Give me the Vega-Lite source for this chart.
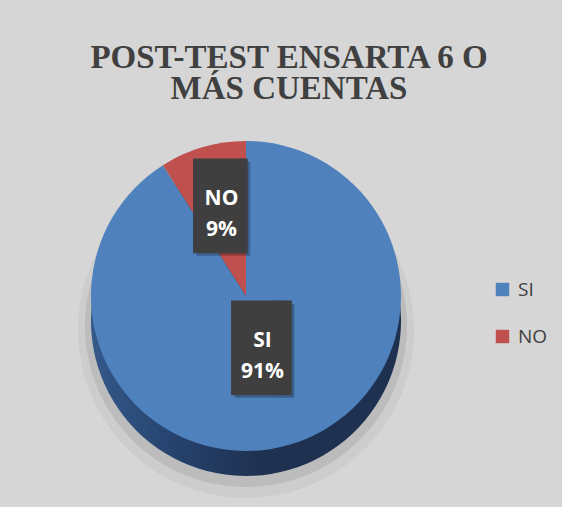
{
  "$schema": "https://vega.github.io/schema/vega-lite/v6.json",
  "width": 470,
  "height": 356,
  "autosize": {"type": "none"},
  "padding": {"left": 11, "top": 118, "right": 81, "bottom": 33},
  "background": "#d6d6d6",
  "title": {
    "text": ["POST-TEST ENSARTA 6 O", "MÁS CUENTAS"],
    "font": "Liberation Serif",
    "fontSize": 33,
    "fontWeight": "bold",
    "color": "#404040",
    "lineHeight": 31,
    "anchor": "middle",
    "frame": "group",
    "offset": 12,
    "dx": 43
  },
  "data": {"values": [{"cat": "SI", "value": 0.91}, {"cat": "NO", "value": 0.09}]},
  "encoding": {
    "theta": {"field": "value", "type": "quantitative", "stack": true},
    "order": {"field": "cat", "sort": "descending"}
  },
  "layer": [
    {"mark": {"type": "arc", "outerRadius": 168, "yOffset": 34, "fill": "#8c8c8c", "opacity": 0.12, "stroke": null}},
    {"mark": {"type": "arc", "outerRadius": 161, "yOffset": 30, "fill": "#7a7a7a", "opacity": 0.2, "stroke": null}},
    {"mark": {"type": "arc", "outerRadius": 155, "yOffset": 25, "stroke": null,
      "fill": {"gradient": "linear", "x1": 0, "x2": 1, "y1": 0, "y2": 0,
        "stops": [{"offset": 0, "color": "#34598a"}, {"offset": 0.3, "color": "#24406a"}, {"offset": 0.55, "color": "#1f3150"}, {"offset": 1, "color": "#1f3150"}]}}},
    {"mark": {"type": "arc", "outerRadius": 155, "stroke": null},
      "encoding": {
        "color": {"field": "cat", "type": "nominal",
          "scale": {"domain": ["SI", "NO"], "range": ["#4f81bd", "#c0504d"]},
          "legend": {"orient": "none", "legendX": 482, "legendY": 162, "title": null, "symbolType": "square", "symbolSize": 180, "symbolStrokeWidth": 0, "labelFont": "Open Sans", "labelFontSize": 19, "labelColor": "#404040", "rowPadding": 27, "padding": 0, "labelOffset": 6}
        }
      }
    },
    {
      "encoding": {
        "radius": {"field": "value", "type": "quantitative", "scale": {"type": "linear", "domain": [0.09, 0.91], "range": [88, 59], "zero": false}}
      },
      "layer": [
        {"mark": {"type": "text", "font": "DejaVu Sans Mono", "fontSize": 79, "align": "left", "baseline": "middle", "fill": "#000000", "opacity": 0.25,
            "dx": {"expr": "datum.cat === 'NO' ? -24 : -27"}, "dy": 1},
          "encoding": {"text": {"condition": {"test": "datum.cat === 'NO'", "value": "█▏"}, "value": "█▎"}}},
        {"mark": {"type": "text", "font": "DejaVu Sans Mono", "fontSize": 79, "align": "left", "baseline": "middle", "fill": "#3f3f3f", "stroke": "#3f3f3f", "strokeWidth": 1,
            "dx": {"expr": "datum.cat === 'NO' ? -27 : -30"}, "dy": -2},
          "encoding": {"text": {"condition": {"test": "datum.cat === 'NO'", "value": "█▏"}, "value": "█▎"}}},
        {"mark": {"type": "text", "font": "Open Sans", "fontSize": 21, "fontWeight": "bold", "align": "center", "baseline": "middle", "fill": "#ffffff", "dy": -12},
          "encoding": {"text": {"field": "cat", "type": "nominal"}}},
        {"mark": {"type": "text", "font": "Open Sans", "fontSize": 21, "fontWeight": "bold", "align": "center", "baseline": "middle", "fill": "#ffffff", "dy": 19},
          "encoding": {"text": {"field": "value", "type": "quantitative", "format": ".0%"}}}
      ]
    }
  ],
  "config": {
    "view": {
      "stroke": null,
      "fill": {"gradient": "radial", "x1": 0.5, "y1": 0.75, "r1": 0, "x2": 0.5, "y2": 0.75, "r2": 0.75,
        "stops": [{"offset": 0, "color": "#f0f0f0"}, {"offset": 1, "color": "#d6d6d6"}]}
    }
  }
}
